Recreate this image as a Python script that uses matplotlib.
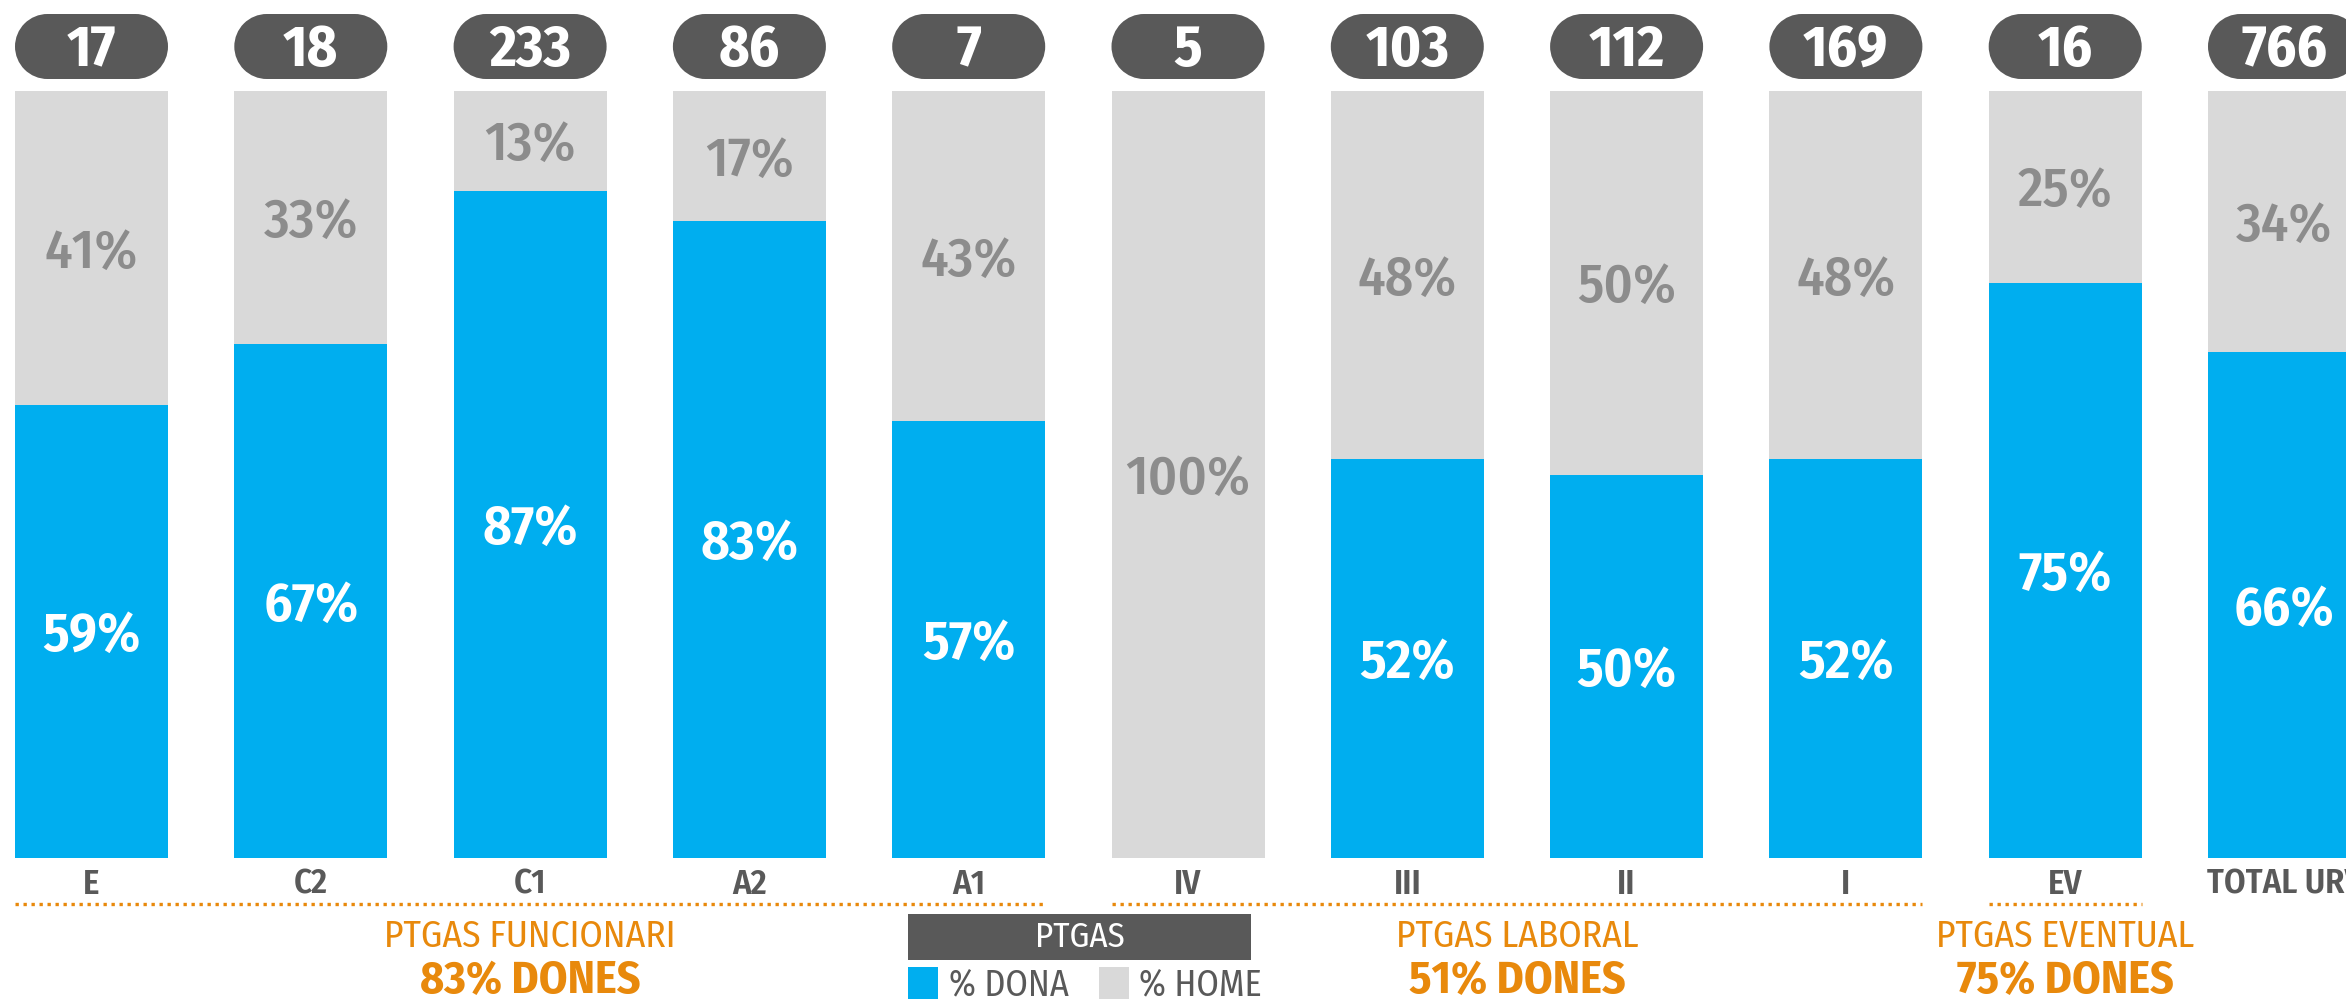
import matplotlib
matplotlib.use('Agg')
import matplotlib.pyplot as plt
from matplotlib.patches import Ellipse, Rectangle

# data
cats = ['E', 'C2', 'C1', 'A2', 'A1', 'IV', 'III', 'II', 'I', 'EV', 'TOTAL URV']
totals = [17, 18, 233, 86, 7, 5, 103, 112, 169, 16, 766]
dona = [59, 67, 87, 83, 57, 0, 52, 50, 52, 75, 66]
home = [41, 33, 13, 17, 43, 100, 48, 50, 48, 25, 34]

group_names = ['PTGAS FUNCIONARI', 'PTGAS LABORAL', 'PTGAS EVENTUAL']
group_pct = ['83% DONES', '51% DONES', '75% DONES']
group_first = [0, 5, 9]
group_last = [4, 8, 9]
group_center = [2, 6.5, 9]

BLUE = '#00AEEF'
LGRAY = '#D9D9D9'
DARK = '#595959'
TGRAY = '#8C8C8C'
ORANGE = '#E8890C'
FONT = ['Fira Sans Condensed', 'Encode Sans Condensed', 'DejaVu Sans']

W, H = 2346, 999
fig = plt.figure(figsize=(W / 100, H / 100), dpi=100)
ax = fig.add_axes([0, 0, 1, 1])

# pixel layout -> data limits
pitch = 219.3
x0 = 91.5
bar_w = 153 / pitch
y_bot, y_top = 858, 91
ppu = (y_bot - y_top) / 100.0
ax.set_xlim(-x0 / pitch, (W - x0) / pitch)
ax.set_ylim(-(H - y_bot) / ppu, 100 + y_top / ppu)
ax.axis('off')


def py(p):
    # pixel row from the top -> data y
    return (y_bot - p) / ppu


def px(p):
    return (p - x0) / pitch


xs = list(range(len(cats)))
ax.bar(xs, dona, width=bar_w, color=BLUE, linewidth=0)
ax.bar(xs, home, width=bar_w, bottom=dona, color=LGRAY, linewidth=0)

cap_pct = 39 / ppu / 2
for i in xs:
    if dona[i] > 0:
        ax.text(i, dona[i] / 2 - cap_pct, f'{dona[i]}%', ha='center', va='baseline',
                color='white', fontsize=40, fontweight='semibold', family=FONT)
    if home[i] > 0:
        ax.text(i, dona[i] + home[i] / 2 - cap_pct, f'{home[i]}%', ha='center',
                va='baseline', color=TGRAY, fontsize=40, fontweight='medium',
                family=FONT)
    ax.text(i, py(894), cats[i], ha='center', va='baseline', color=DARK,
            fontsize=25, fontweight='semibold', family=FONT)

# pills with totals
r = 32.5
for i in xs:
    left = i - bar_w / 2 + r / pitch
    right = i + bar_w / 2 - r / pitch
    ax.add_patch(Rectangle((left, py(79)), right - left, py(14) - py(79),
                           fc=DARK, ec='none', clip_on=False))
    for cx in (left, right):
        ax.add_patch(Ellipse((cx, py(46.5)), 2 * r / pitch, 2 * r / ppu,
                             fc=DARK, ec='none', clip_on=False))
    ax.text(i, py(66), str(totals[i]), ha='center', va='baseline',
            color='white', fontsize=42, fontweight='bold', family=FONT)

# groups
for g in range(len(group_names)):
    ax.plot([group_first[g] - bar_w / 2, group_last[g] + bar_w / 2], [py(904), py(904)],
            color=ORANGE, lw=2.4, ls=(0, (1, 1.4)), dash_capstyle='butt')
    ax.text(group_center[g], py(947), group_names[g], ha='center', va='baseline',
            color=ORANGE, fontsize=27, family=FONT)
    ax.text(group_center[g], py(993), group_pct[g], ha='center', va='baseline',
            color=ORANGE, fontsize=33, fontweight='bold', family=FONT)

# legend
ax.add_patch(Rectangle((px(908), py(960)), px(1251) - px(908), py(914) - py(960),
                       fc=DARK, ec='none'))
ax.text((px(908) + px(1251)) / 2, py(947), 'PTGAS', ha='center', va='baseline',
        color='white', fontsize=25, family=FONT)
for sx, tx, label, col in [(908, 949, '% DONA', BLUE), (1099, 1139, '% HOME', LGRAY)]:
    ax.add_patch(Rectangle((px(sx), py(1005)), 30 / pitch, py(967) - py(1005),
                           fc=col, ec='none', clip_on=False))
    ax.text(px(tx), py(995), label, ha='left', va='baseline', color=DARK,
            fontsize=26, family=FONT)

fig.savefig('out.png', dpi=100)
